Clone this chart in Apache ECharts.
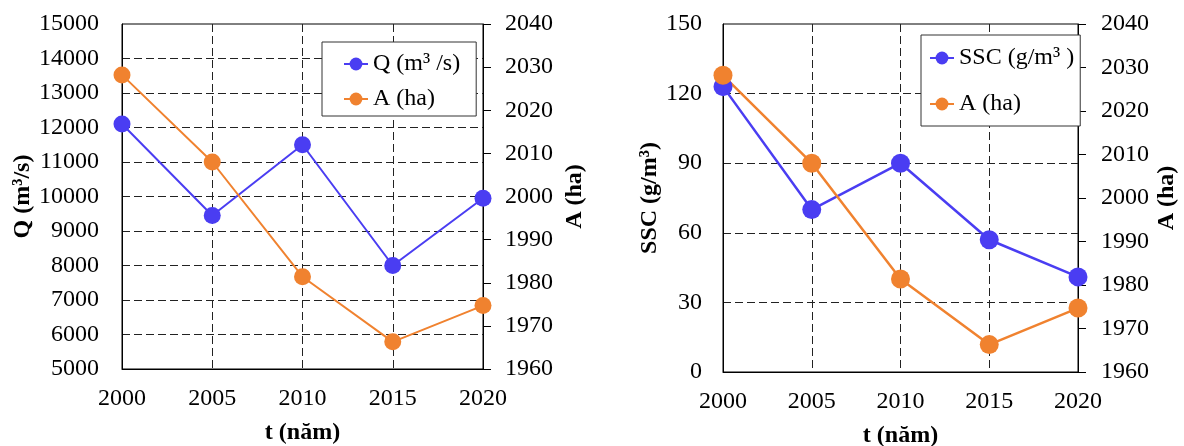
<!DOCTYPE html>
<html>
<head>
<meta charset="utf-8">
<script src="https://cdn.jsdelivr.net/npm/echarts@6/dist/echarts.min.js"></script>
<style>
  html, body { margin: 0; padding: 0; background: #fff; }
  #chart { width: 1184px; height: 446px; }
</style>
</head>
<body>
<div id="chart"></div>
<script>
// Survey years on the horizontal axis
const years = ['2000', '2005', '2010', '2015', '2020'];

// Discharge Q (m³/s)
const discharge = [12100, 9450, 11500, 8000, 9950];
// Suspended sediment concentration SSC (g/m³)
const sediment = [123, 70, 90, 57, 41];
// Area A (ha)
const area = [2028.2, 2008, 1981.4, 1966.3, 1974.7];

// Axis ranges: [min, max, step]
const qRange = [5000, 15000, 1000];
const sscRange = [0, 150, 30];
const areaRange = [1960, 2040, 10];

const BLUE = '#4a3df2';
const ORANGE = '#f0822f';
const FONT = "'Liberation Serif', 'Times New Roman', serif";

const labelStyle = { fontFamily: FONT, fontSize: 24, color: '#000' };
const nameStyle = { fontFamily: FONT, fontSize: 24, fontWeight: 'bold', color: '#000' };
const dashed = { show: true, lineStyle: { color: '#222', width: 1, type: [8, 4] } };
const solidAxis = { show: true, lineStyle: { color: '#000', width: 1 } };

function xAxis(gridIndex) {
  return {
    type: 'category', gridIndex, data: years, boundaryGap: false,
    axisLine: solidAxis, axisTick: { show: false },
    axisLabel: Object.assign({ margin: 18 }, labelStyle),
    splitLine: Object.assign({ showMinLine: false, showMaxLine: false }, dashed),
    name: 't (năm)', nameLocation: 'middle', nameGap: 52, nameTextStyle: nameStyle
  };
}

function leftAxis(gridIndex, range, name, margin, nameGap) {
  return {
    type: 'value', gridIndex, position: 'left',
    min: range[0], max: range[1], interval: range[2],
    axisLine: solidAxis, axisTick: { show: false },
    axisLabel: Object.assign({ margin, formatter: v => String(v) }, labelStyle),
    splitLine: Object.assign({ showMinLine: false, showMaxLine: false }, dashed),
    name, nameLocation: 'middle', nameGap, nameTextStyle: nameStyle
  };
}

function rightAxis(gridIndex, range, name, margin, nameGap) {
  return {
    type: 'value', gridIndex, position: 'right',
    min: range[0], max: range[1], interval: range[2],
    axisLine: solidAxis,
    axisTick: { show: true, inside: false, length: 8, lineStyle: { color: '#000', width: 1 } },
    axisLabel: Object.assign({ margin, formatter: v => String(v) }, labelStyle),
    splitLine: { show: false },
    name, nameLocation: 'middle', nameGap, nameTextStyle: nameStyle
  };
}

function lineSeries(name, data, xIdx, yIdx, color, size, width) {
  return {
    type: 'line', name, data, xAxisIndex: xIdx, yAxisIndex: yIdx,
    symbol: 'circle', symbolSize: size, showSymbol: true, clip: false,
    itemStyle: { color }, lineStyle: { color, width },
    emphasis: { disabled: true }, animation: false
  };
}

function legend(left, top, padding, itemGap, names) {
  return {
    orient: 'vertical', left, top, padding, itemGap,
    itemWidth: 24, itemHeight: 16,
    backgroundColor: '#fff', borderColor: '#333', borderWidth: 1,
    textStyle: { fontFamily: FONT, fontSize: 24, color: '#000' },
    data: names, selectedMode: false
  };
}

const gridBase = {
  show: true, borderColor: '#000', borderWidth: 1, backgroundColor: 'transparent',
  containLabel: false, outerBoundsMode: 'none'
};

const chart = echarts.init(document.getElementById('chart'), null, { renderer: 'canvas' });
chart.setOption({
  animation: false,
  backgroundColor: '#fff',
  grid: [
    Object.assign({ left: 122, top: 24, width: 361, height: 345 }, gridBase),
    Object.assign({ left: 723, top: 24, width: 355, height: 348 }, gridBase)
  ],
  legend: [
    legend(322, 42, [10, 16, 5, 21], 11, ['Q (m³ /s)', 'A (ha)']),
    legend(921, 35, [11, 6, 10, 8], 22, ['SSC (g/m³ )', 'A (ha) '])
  ],
  xAxis: [xAxis(0), xAxis(1)],
  yAxis: [
    leftAxis(0, qRange, 'Q (m³/s)', 23, 87),
    rightAxis(0, areaRange, 'A (ha)', 22, 80),
    leftAxis(1, sscRange, 'SSC (g/m³)', 21, 61),
    rightAxis(1, areaRange, 'A (ha)', 23, 77)
  ],
  series: [
    lineSeries('Q (m³ /s)', discharge, 0, 0, BLUE, 17, 2),
    lineSeries('A (ha)', area, 0, 1, ORANGE, 17, 2),
    lineSeries('SSC (g/m³ )', sediment, 1, 2, BLUE, 19, 2.5),
    lineSeries('A (ha) ', area, 1, 3, ORANGE, 19, 2.5)
  ]
});
</script>
</body>
</html>
